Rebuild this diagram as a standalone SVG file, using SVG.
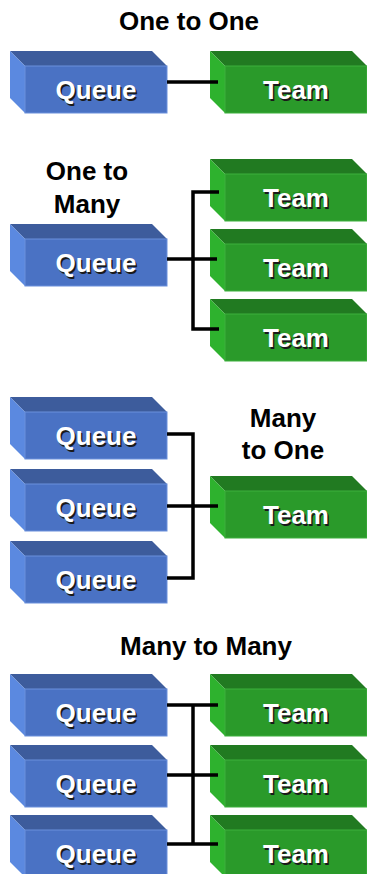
<svg xmlns="http://www.w3.org/2000/svg" xmlns:xlink="http://www.w3.org/1999/xlink" width="367" height="874" viewBox="0 0 367 874">
  <style>
    .title { font-family: "Liberation Sans", Arial, sans-serif; font-weight: bold; font-size: 26px; fill: #000; text-anchor: middle; }
    .label { font-family: "Liberation Sans", Arial, sans-serif; font-weight: bold; font-size: 26px; text-anchor: middle; }
    .label-shadow { fill: #1a1a1a; }
    .label-text { fill: #ffffff; }
    .q-top { fill: #3d5c9c; }
    .q-left { fill: #5b89e0; }
    .q-front { fill: #4a72c4; stroke: #6a90dc; stroke-width: 1; }
    .t-top { fill: #217a21; }
    .t-left { fill: #2eb22e; }
    .t-front { fill: #2a9a2a; stroke: #3cb03c; stroke-width: 1; }
    .wire { fill: none; stroke: #000; stroke-width: 3.5; stroke-linecap: butt; stroke-linejoin: miter; }
  </style>
  <defs>
    <!-- extruded block, drawn at its own origin -->
    <g id="queueBox">
      <polygon class="q-top" points="0,0 142,0 157,15 15,15"/>
      <polygon class="q-left" points="0,0 15,15 15,62 0,47"/>
      <rect class="q-front" x="15" y="15" width="142" height="47"/>
    </g>
    <g id="teamBox">
      <polygon class="t-top" points="0,0 142,0 157,15 15,15"/>
      <polygon class="t-left" points="0,0 15,15 15,62 0,47"/>
      <rect class="t-front" x="15" y="15" width="142" height="47"/>
    </g>
  </defs>

  <rect width="367" height="874" fill="#ffffff"/>

  <!-- section headings -->
  <g id="titles">
    <text class="title" x="189" y="30">One to One</text>
    <text class="title" x="87" y="180">One to</text>
    <text class="title" x="87" y="213">Many</text>
    <text class="title" x="283" y="427">Many</text>
    <text class="title" x="283" y="459">to One</text>
    <text class="title" x="206" y="655">Many to Many</text>
  </g>

  <!-- one to one -->
  <g id="s1-queue" transform="translate(10,51)">
    <use xlink:href="#queueBox"/>
    <text class="label label-shadow" x="87.5" y="49.5">Queue</text>
    <text class="label label-text" x="86" y="48">Queue</text>
  </g>
  <g id="s1-team" transform="translate(210,51)">
    <use xlink:href="#teamBox"/>
    <text class="label label-shadow" x="87.5" y="49.5">Team</text>
    <text class="label label-text" x="86" y="48">Team</text>
  </g>

  <!-- one to many -->
  <g id="s2-queue" transform="translate(10,224)">
    <use xlink:href="#queueBox"/>
    <text class="label label-shadow" x="87.5" y="49.5">Queue</text>
    <text class="label label-text" x="86" y="48">Queue</text>
  </g>
  <g id="s2-team1" transform="translate(210,159)">
    <use xlink:href="#teamBox"/>
    <text class="label label-shadow" x="87.5" y="49.5">Team</text>
    <text class="label label-text" x="86" y="48">Team</text>
  </g>
  <g id="s2-team2" transform="translate(210,229)">
    <use xlink:href="#teamBox"/>
    <text class="label label-shadow" x="87.5" y="49.5">Team</text>
    <text class="label label-text" x="86" y="48">Team</text>
  </g>
  <g id="s2-team3" transform="translate(210,299)">
    <use xlink:href="#teamBox"/>
    <text class="label label-shadow" x="87.5" y="49.5">Team</text>
    <text class="label label-text" x="86" y="48">Team</text>
  </g>

  <!-- many to one -->
  <g id="s3-queue1" transform="translate(10,397)">
    <use xlink:href="#queueBox"/>
    <text class="label label-shadow" x="87.5" y="49.5">Queue</text>
    <text class="label label-text" x="86" y="48">Queue</text>
  </g>
  <g id="s3-queue2" transform="translate(10,469)">
    <use xlink:href="#queueBox"/>
    <text class="label label-shadow" x="87.5" y="49.5">Queue</text>
    <text class="label label-text" x="86" y="48">Queue</text>
  </g>
  <g id="s3-queue3" transform="translate(10,541)">
    <use xlink:href="#queueBox"/>
    <text class="label label-shadow" x="87.5" y="49.5">Queue</text>
    <text class="label label-text" x="86" y="48">Queue</text>
  </g>
  <g id="s3-team" transform="translate(210,476)">
    <use xlink:href="#teamBox"/>
    <text class="label label-shadow" x="87.5" y="49.5">Team</text>
    <text class="label label-text" x="86" y="48">Team</text>
  </g>

  <!-- many to many -->
  <g id="s4-queue1" transform="translate(10,674)">
    <use xlink:href="#queueBox"/>
    <text class="label label-shadow" x="87.5" y="49.5">Queue</text>
    <text class="label label-text" x="86" y="48">Queue</text>
  </g>
  <g id="s4-queue2" transform="translate(10,745)">
    <use xlink:href="#queueBox"/>
    <text class="label label-shadow" x="87.5" y="49.5">Queue</text>
    <text class="label label-text" x="86" y="48">Queue</text>
  </g>
  <g id="s4-queue3" transform="translate(10,815)">
    <use xlink:href="#queueBox"/>
    <text class="label label-shadow" x="87.5" y="49.5">Queue</text>
    <text class="label label-text" x="86" y="48">Queue</text>
  </g>
  <g id="s4-team1" transform="translate(210,674)">
    <use xlink:href="#teamBox"/>
    <text class="label label-shadow" x="87.5" y="49.5">Team</text>
    <text class="label label-text" x="86" y="48">Team</text>
  </g>
  <g id="s4-team2" transform="translate(210,745)">
    <use xlink:href="#teamBox"/>
    <text class="label label-shadow" x="87.5" y="49.5">Team</text>
    <text class="label label-text" x="86" y="48">Team</text>
  </g>
  <g id="s4-team3" transform="translate(210,815)">
    <use xlink:href="#teamBox"/>
    <text class="label label-shadow" x="87.5" y="49.5">Team</text>
    <text class="label label-text" x="86" y="48">Team</text>
  </g>

  <!-- connectors -->
  <g id="connectors">
    <path class="wire" d="M167,82 H218"/>

    <path class="wire" d="M219,192 H193 V329 H219"/>
    <path class="wire" d="M167,259 H217"/>

    <path class="wire" d="M167,434 H193 V578 H167"/>
    <path class="wire" d="M167,506 H218"/>

    <path class="wire" d="M193,705 V844"/>
    <path class="wire" d="M167,705 H218"/>
    <path class="wire" d="M167,775 H218"/>
    <path class="wire" d="M167,844 H218"/>
  </g>
</svg>
